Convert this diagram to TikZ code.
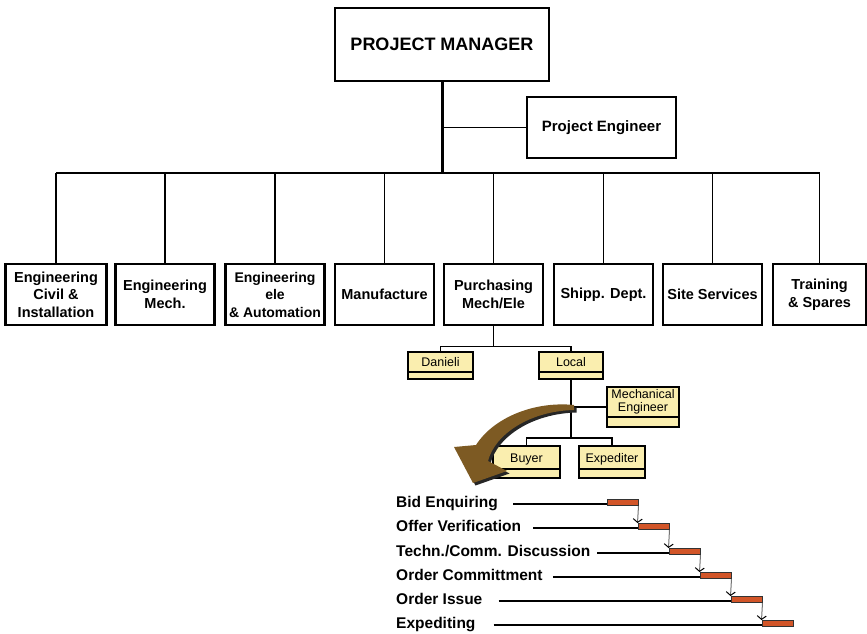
\documentclass[tikz,border=0pt]{standalone}
\usepackage{fontspec}
\setmainfont{Liberation Sans}
\usetikzlibrary{positioning,arrows.meta,calc}

\definecolor{cardfill}{RGB}{250,238,175}
\definecolor{arrowbrown}{RGB}{125,90,35}
\definecolor{barfill}{RGB}{210,85,40}

\begin{document}
\begin{tikzpicture}[x=1pt, y=-1pt,
    unit/.style={draw, line width=2.6pt, minimum width=99pt, minimum height=61pt,
                 inner sep=0pt, align=center,
                 font=\fontsize{14.5}{17.5}\selectfont\bfseries},
    card/.style={draw, line width=1.6pt, fill=cardfill, inner sep=0pt,
                 font=\fontsize{12.5}{12}\selectfont,
                 text height=9pt, text depth=#1,
                 path picture={\draw[line width=1.6pt]
                     ([yshift=#1]path picture bounding box.south west) --
                     ([yshift=#1]path picture bounding box.south east);}},
    card/.default=7pt,
    link/.style={line width=1.3pt},
    rule/.style={line width=1.2pt},
    stage/.style={anchor=base west, inner sep=0pt,
                  font=\fontsize{15.5}{15.5}\selectfont\bfseries},
    bar/.style={draw=black!80, line width=1pt, fill=barfill,
                minimum width=31pt, minimum height=6pt, inner sep=0pt},
    flow/.style={draw=black!55, line width=1pt,
                 -{Straight Barb[width=9pt,length=3.5pt,color=black]}}
]
\useasboundingbox (0,0) rectangle (867,633);

% Top of the chart
\node[unit, minimum width=214pt, minimum height=73pt,
      font=\fontsize{18}{20}\selectfont\bfseries] (pm) at (442,44.5) {PROJECT MANAGER};
\node[unit, minimum width=149pt, font=\fontsize{15}{17}\selectfont\bfseries]
      (pe) at (601.5,127.5) {Project Engineer};

% Departments
\node[unit, minimum width=101pt] (u1) at (56,294.5) {Engineering\\Civil \&\\Installation};
\node[unit] (u2) at (165,294.5) {Engineering\\Mech.};
\node[unit, font=\fontsize{14}{17.5}\selectfont\bfseries] (u3) at (275,294.5) {Engineering\\ele\\\& Automation};
\node[unit] (u4) at (384.5,294.5) {Manufacture};
\node[unit] (u5) at (493.5,294.5) {Purchasing\\Mech/Ele};
\node[unit] (u6) at (603.5,294.5) {Shipp. Dept.};
\node[unit] (u7) at (712.5,294.5) {Site Services};
\node[unit, minimum width=93pt] (u8) at (819.5,294.5) {Training\\\& Spares};

% Tree lines
\coordinate (bus) at (0,173);
\draw[line width=3pt] (pm.south) -- (pm.south |- bus);
\draw[link] (pe.west) -- (pe.west -| pm.south);
\draw[link] (u1.north |- bus) -- (u8.north |- bus);
\foreach \i in {1,...,8}
    \draw[link] (u\i.north) -- (u\i.north |- bus);

% Purchasing sub-tree
\node[card, minimum width=65pt, minimum height=27pt] (danieli) at (440.5,365.5) {Danieli};
\node[card, minimum width=64pt, minimum height=27pt] (local) at (571,365.5) {Local};
\node[card=10pt, minimum width=72pt, minimum height=40pt, text height=14pt, text depth=17.8pt]
      (mecheng) at (643,407) {\begin{tabular}{@{}c@{}}Mechanical\\Engineer\end{tabular}};
\node[card=9pt, minimum width=67pt, minimum height=32pt] (buyer) at (526.5,462) {Buyer};
\node[card=9pt, minimum width=66pt, minimum height=32pt] (expediter) at (612,462) {Expediter};

\coordinate (pbus) at (0,346.5);
\coordinate (lbus) at (0,438);
\draw[link] (u5.south) -- (u5.south |- pbus);
\draw[link] (danieli.north) |- (local.north |- pbus) -- (local.north);
\draw[link] (local.south) -- (local.south |- lbus);
\draw[link] (mecheng.west) -- (mecheng.west -| local.south);
\draw[link] (buyer.north) |- (expediter.north |- lbus) -- (expediter.north);

% Bent arrow with shadow
\foreach \c/\s in {black!85/2.5, arrowbrown/0}
    \fill[\c, shift={(\s,\s)}] (574,405) .. controls (535,401) and (494,417) .. (476,445)
        -- (454,447) -- (473,483) -- (507,471) -- (488,461)
        .. controls (495,434) and (530,411) .. (574,410) -- cycle;

% Procurement steps
\foreach \i/\t/\y/\g in {1/Bid Enquiring/503/15, 2/Offer Verification/527/12,
                         3/{Techn./Comm. Discussion}/552/7, 4/Order Committment/576/10,
                         5/Order Issue/600/16, 6/Expediting/624/18} {
    \node[stage] (stage\i) at (396,\y+4) {\t};
    \coordinate (row\i) at (0,\y+1);
    \node[bar] (bar\i) at ({622.5+31*(\i-1)},\y-0.5) {};
    \draw[rule] ([xshift=\g pt]stage\i.east |- row\i) -- (bar\i.west |- row\i);
}
\foreach \i/\j in {1/2, 2/3, 3/4, 4/5, 5/6}
    \draw[flow] (bar\i.south east) -- (bar\j.north west);
\foreach \i in {1,...,6}
    \node[bar] at (bar\i) {};

\end{tikzpicture}
\end{document}
